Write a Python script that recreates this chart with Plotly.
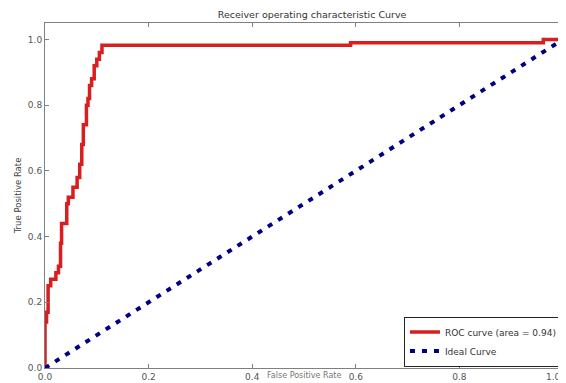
import plotly.graph_objects as go

# ROC curve staircase (x where the step occurs, y after the step)
fpr = [0.0, 0.0, 0.003, 0.006, 0.011, 0.021, 0.026, 0.030, 0.032, 0.042, 0.045,
       0.054, 0.062, 0.067, 0.071, 0.074, 0.080, 0.083, 0.086, 0.090, 0.095,
       0.100, 0.105, 0.110, 0.590, 0.962, 1.0]
tpr = [0.0, 0.14, 0.17, 0.25, 0.27, 0.29, 0.31, 0.38, 0.44, 0.50, 0.52,
       0.55, 0.58, 0.62, 0.68, 0.74, 0.80, 0.82, 0.86, 0.88, 0.92,
       0.94, 0.96, 0.982, 0.99, 1.0, 1.0]

ideal_x = [0.0, 1.0]
ideal_y = [0.0, 1.0]

tick_vals = [0.0, 0.2, 0.4, 0.6, 0.8, 1.0]
tick_text = ["0.0", "0.2", "0.4", "0.6", "0.8", "1.0"]

roc_label = "ROC curve (area = 0.94)"
ideal_label = "Ideal Curve"

fig = go.Figure()
fig.add_trace(go.Scatter(x=fpr, y=tpr, mode="lines", line_shape="hv",
                         line=dict(color="#d81e1e", width=3.5), name=roc_label))
fig.add_trace(go.Scatter(x=ideal_x, y=ideal_y, mode="lines",
                         line=dict(color="#000080", width=4, dash="5px,7px"),
                         name=ideal_label))

axis_common = dict(showgrid=False, zeroline=False, showline=True, linecolor="#808080",
                   linewidth=1, mirror="allticks", ticks="inside", ticklen=4,
                   tickcolor="#808080", automargin=False,
                   tickfont=dict(family="DejaVu Sans", size=9, color="#555555"))

# page body has an 8px default margin, so the figure is sized to fit the window
fig.update_layout(
    width=558, height=375,
    margin=dict(l=37, r=3, t=15, b=15),
    paper_bgcolor="white", plot_bgcolor="white",
    title=dict(text="Receiver operating characteristic Curve", x=0.545, xanchor="center",
               y=0.981, yanchor="middle",
               font=dict(family="DejaVu Sans", size=9.5, color="#333333")),
    xaxis=dict(range=[0, 1], tickvals=tick_vals[:-1], ticktext=tick_text[:-1],
               **axis_common),
    yaxis=dict(range=[0, 1.05], tickvals=tick_vals, ticktext=tick_text,
               title=dict(text="True Positive Rate", standoff=4,
               font=dict(family="DejaVu Sans", size=8.5, color="#444444")), **axis_common),
    legend=dict(x=0.998, y=0.004, xanchor="right", yanchor="bottom",
                bordercolor="#222222", borderwidth=1, bgcolor="white",
                font=dict(family="DejaVu Sans", size=9, color="#333333"),
                tracegroupgap=0, itemwidth=30),
    showlegend=True,
    annotations=[
        dict(text="False Positive Rate", xref="paper", yref="paper",
             x=0.5, y=-0.040, xanchor="center", yanchor="bottom",
             showarrow=False,
             font=dict(family="DejaVu Sans", size=8, color="#777777")),
        dict(text=tick_text[-1], xref="x", yref="paper",
             x=tick_vals[-1], y=-0.006, xanchor="right", yanchor="top",
             showarrow=False,
             font=dict(family="DejaVu Sans", size=9, color="#555555")),
    ],
)

fig.write_html("out.html")
